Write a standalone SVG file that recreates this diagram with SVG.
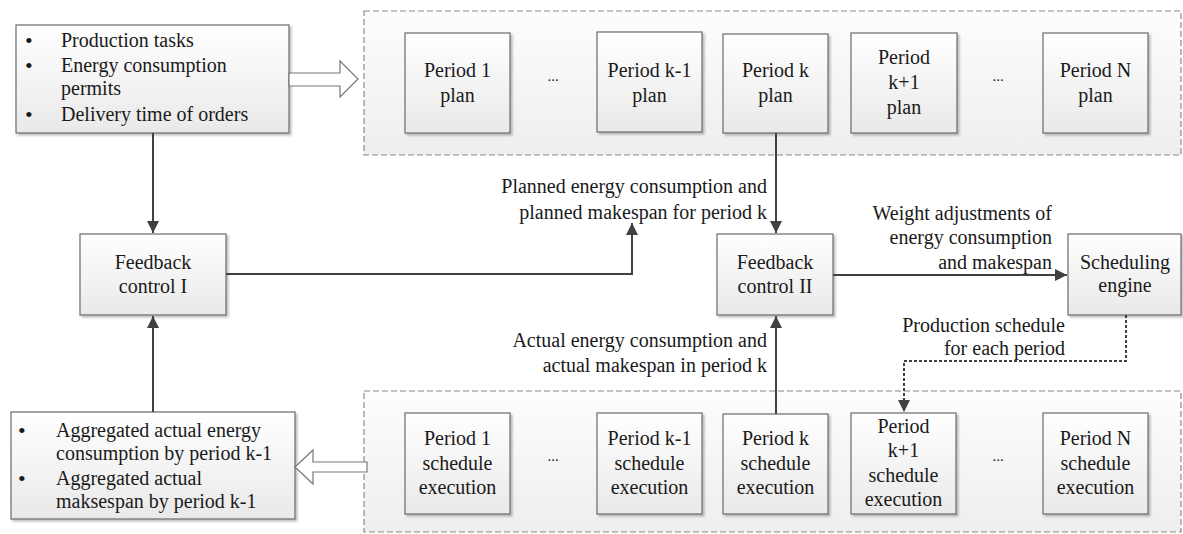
<svg xmlns="http://www.w3.org/2000/svg" width="1183" height="534" viewBox="0 0 1183 534">
<defs>
<linearGradient id="gBox" x1="0" y1="0" x2="0" y2="1"><stop offset="0" stop-color="#ffffff"/><stop offset="1" stop-color="#e9e9e9"/></linearGradient>
<linearGradient id="gCont" x1="0" y1="0" x2="0" y2="1"><stop offset="0" stop-color="#fdfdfd"/><stop offset="1" stop-color="#eeeeee"/></linearGradient>
<filter id="sh" x="-10%" y="-10%" width="130%" height="130%"><feDropShadow dx="2" dy="2" stdDeviation="1.2" flood-color="#000" flood-opacity="0.25"/></filter>
<marker id="ah" markerUnits="userSpaceOnUse" markerWidth="14" markerHeight="14" refX="12" refY="6" orient="auto"><path d="M0,0 L12,6 L0,12 z" fill="#404040"/></marker>
</defs>
<style>
.box{fill:url(#gBox);stroke:#6a6a6a;stroke-width:1.2;filter:url(#sh)}
.cont{fill:url(#gCont);stroke:#8a8a8a;stroke-width:1.2;stroke-dasharray:6 3}
text{font-family:"Liberation Serif","DejaVu Serif",serif;font-size:20px;fill:#1a1a1a}
.c{text-anchor:middle}
.r{text-anchor:end}
.dots{font-size:15px}
.bul{font-size:22px}
.ln{fill:none;stroke:#404040;stroke-width:2}
.hol{fill:#ffffff;stroke:#777;stroke-width:1.2}
</style>

<g id="plan-container">
<rect class="cont" x="364" y="11" width="817" height="144"/>
</g>
<g id="exec-container">
<rect class="cont" x="364" y="391" width="817" height="141"/>
</g>

<g id="inputs">
<rect class="box" x="16" y="25" width="273" height="108"/>
<text class="bul" x="25" y="48">•</text><text x="61" y="47">Production tasks</text>
<text class="bul" x="25" y="73">•</text><text x="61" y="72">Energy consumption</text>
<text x="61" y="95">permits</text>
<text class="bul" x="25" y="122">•</text><text x="61" y="121">Delivery time of orders</text>
</g>

<g id="aggregated">
<rect class="box" x="11" y="412" width="284" height="107"/>
<text class="bul" x="18" y="438">•</text><text x="56" y="437">Aggregated actual energy</text>
<text x="56" y="460">consumption by period k-1</text>
<text class="bul" x="18" y="486">•</text><text x="56" y="485">Aggregated actual</text>
<text x="56" y="508">maksespan by period k-1</text>
</g>

<g id="fc1">
<rect class="box" x="80" y="234" width="146" height="81"/>
<text class="c" x="153" y="269">Feedback</text>
<text class="c" x="153" y="293">control I</text>
</g>

<g id="fc2">
<rect class="box" x="717" y="234" width="116" height="81"/>
<text class="c" x="775" y="269">Feedback</text>
<text class="c" x="775" y="293">control II</text>
</g>

<g id="engine">
<rect class="box" x="1068" y="234" width="113" height="81"/>
<text class="c" x="1125" y="269">Scheduling</text>
<text class="c" x="1125" y="292">engine</text>
</g>

<g id="plan1"><rect class="box" x="405" y="33" width="105" height="100"/><text class="c" x="457.5" y="77">Period 1</text><text class="c" x="457.5" y="102">plan</text></g>
<g id="plan-dots1"><text class="c dots" x="553" y="81">...</text></g>
<g id="plankm1"><rect class="box" x="597" y="32" width="105" height="100"/><text class="c" x="649.5" y="77">Period k-1</text><text class="c" x="649.5" y="102">plan</text></g>
<g id="plank"><rect class="box" x="723" y="34" width="105" height="99"/><text class="c" x="775.5" y="77">Period k</text><text class="c" x="775.5" y="102">plan</text></g>
<g id="plankp1"><rect class="box" x="851" y="33" width="106" height="100"/><text class="c" x="904" y="64">Period</text><text class="c" x="904" y="89">k+1</text><text class="c" x="904" y="114">plan</text></g>
<g id="plan-dots2"><text class="c dots" x="998" y="81">...</text></g>
<g id="planN"><rect class="box" x="1043" y="33" width="105" height="100"/><text class="c" x="1095.5" y="77">Period N</text><text class="c" x="1095.5" y="102">plan</text></g>

<g id="exec1"><rect class="box" x="405" y="413" width="105" height="101"/><text class="c" x="457.5" y="445">Period 1</text><text class="c" x="457.5" y="470">schedule</text><text class="c" x="457.5" y="494">execution</text></g>
<g id="exec-dots1"><text class="c dots" x="553" y="461">...</text></g>
<g id="execkm1"><rect class="box" x="597" y="413" width="105" height="101"/><text class="c" x="649.5" y="445">Period k-1</text><text class="c" x="649.5" y="470">schedule</text><text class="c" x="649.5" y="494">execution</text></g>
<g id="execk"><rect class="box" x="723" y="414" width="105" height="100"/><text class="c" x="775.5" y="445">Period k</text><text class="c" x="775.5" y="470">schedule</text><text class="c" x="775.5" y="494">execution</text></g>
<g id="execkp1"><rect class="box" x="851" y="413" width="105" height="101"/><text class="c" x="903.5" y="433">Period</text><text class="c" x="903.5" y="457">k+1</text><text class="c" x="903.5" y="482">schedule</text><text class="c" x="903.5" y="506">execution</text></g>
<g id="exec-dots2"><text class="c dots" x="998" y="461">...</text></g>
<g id="execN"><rect class="box" x="1043" y="413" width="105" height="101"/><text class="c" x="1095.5" y="445">Period N</text><text class="c" x="1095.5" y="470">schedule</text><text class="c" x="1095.5" y="494">execution</text></g>

<g id="connectors">
<polygon class="hol" points="289,73 340,73 340,61 358,79 340,97 340,86 289,86"/>
<polygon class="hol" points="367,462 313,462 313,450 295,467 313,484 313,472 367,472"/>
<line class="ln" x1="153" y1="133" x2="153" y2="233" marker-end="url(#ah)"/>
<line class="ln" x1="153" y1="412" x2="153" y2="316" marker-end="url(#ah)"/>
<polyline class="ln" points="226,274 632,274 632,223" marker-end="url(#ah)"/>
<line class="ln" x1="776" y1="133" x2="776" y2="233" marker-end="url(#ah)"/>
<line class="ln" x1="776" y1="414" x2="776" y2="316" marker-end="url(#ah)"/>
<line class="ln" x1="833" y1="275" x2="1067" y2="275" marker-end="url(#ah)"/>
<polyline class="ln" points="1126,315 1126,361 904,361 904,412" stroke-dasharray="3 2" marker-end="url(#ah)"/>
<text class="r" x="767" y="193">Planned energy consumption and</text>
<text class="r" x="767" y="219">planned makespan for period k</text>
<text class="r" x="767" y="347">Actual energy consumption  and</text>
<text class="r" x="767" y="372">actual makespan in period k</text>
<text class="r" x="1052" y="220">Weight adjustments of</text>
<text class="r" x="1052" y="244">energy consumption</text>
<text class="r" x="1052" y="269">and makespan</text>
<text class="r" x="1065" y="332">Production schedule</text>
<text class="r" x="1065" y="355">for each period</text>
</g>
</svg>
